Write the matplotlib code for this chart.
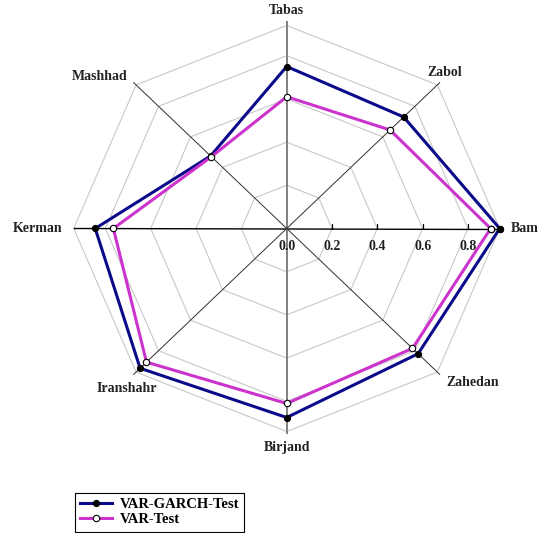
import numpy as np
import matplotlib
matplotlib.use("Agg")
import matplotlib.pyplot as plt

# ---- data ----
categories = ["Bam", "Zabol", "Tabas", "Mashhad", "Kerman", "Iranshahr", "Birjand", "Zahedan"]
var_garch = [0.94, 0.73, 0.75, 0.475, 0.845, 0.915, 0.875, 0.82]
var_test = [0.90, 0.645, 0.61, 0.47, 0.765, 0.875, 0.81, 0.785]
ring_levels = [0.2, 0.4, 0.6, 0.8, 0.94]
tick_values = [0.0, 0.2, 0.4, 0.6, 0.8]
tick_labels = ["0.0", "0.2", "0.4", "0.6", "0.8"]
series_names = ["VAR-GARCH-Test", "VAR-Test"]

W, H = 539, 533
fig = plt.figure(figsize=(W / 100, H / 100), dpi=100)
cx, cy = 286.7, 228.5
sx, sy = 226.6, 216.0
ax = fig.add_axes([(cx - sx) / W, (H - cy - sy) / H, 2 * sx / W, 2 * sy / H], projection="polar")
ax.set_aspect("auto")
ax.set_ylim(0, 1.0)
ax.grid(False)
ax.spines["polar"].set_visible(False)
ax.set_xticks([])
ax.set_yticks([])
ax.patch.set_alpha(0)

n = len(categories)
angles = np.deg2rad(np.arange(n) * 360.0 / n)
closed = np.append(angles, angles[0])

serif = {"family": ["Liberation Serif", "DejaVu Serif"], "weight": "bold"}

# rings
for r in ring_levels:
    ax.plot(closed, [r] * (n + 1), color="#c8c8c8", lw=0.8, zorder=1)

# spokes
ax.plot([0, np.pi], [0.94, 0.94], color="black", lw=1.0, zorder=2)
ax.plot([np.pi / 2, np.pi / 2], [0, 0.955], color="#808080", lw=1.4, zorder=2)
ax.plot([3 * np.pi / 2, 3 * np.pi / 2], [0, 0.945], color="#808080", lw=1.4, zorder=2)
for a in angles[[1, 3, 5, 7]]:
    ax.plot([a, a], [0, 0.955], color="#303030", lw=0.7, zorder=2)

# ticks on Bam axis
for v, lab in zip(tick_values, tick_labels):
    if v > 0:
        ax.plot([0], [v], marker=2, color="black", markersize=3.5, mew=0.9, zorder=3)
    ax.annotate(lab, (0, v), xytext=(0, -18), textcoords="offset pixels",
                ha="center", va="center", fontsize=10, color="#222222", **serif)

# series
gv = var_garch + var_garch[:1]
tv = var_test + var_test[:1]
ax.plot(closed, gv, color="#0a0a8a", lw=2.2, marker="o", markersize=4.2,
        mfc="black", mec="black", zorder=5, label=series_names[0])
ax.plot(closed, tv, color="#cc33cc", lw=2.2, marker="o", markersize=4.6,
        mfc="white", mec="black", mew=0.8, zorder=6, label=series_names[1])

# category labels
label_r = [0.94, 0.955, 0.955, 0.955, 0.94, 0.955, 0.945, 0.955]
offsets = [(11, 0, "left"), (5, 10, "center"), (0, 12, "center"), (-6, 6, "right"),
           (-11, 0, "right"), (-7, -14, "center"), (0, -15, "center"), (7, -8, "left")]
for a, r, name, (dx, dy, ha) in zip(angles, label_r, categories, offsets):
    ax.annotate(name, (a, r), xytext=(dx, dy), textcoords="offset pixels",
                ha=ha, va="center", fontsize=10, color="#222222", **serif)

leg = fig.legend(loc="lower left", bbox_to_anchor=(75 / W, 1.5 / H), borderaxespad=0,
                 fancybox=False, edgecolor="black", framealpha=1,
                 prop={"family": ["Liberation Serif", "DejaVu Serif"], "weight": "bold", "size": 10.5},
                 handlelength=2.2, handletextpad=0.5, labelspacing=0.15,
                 borderpad=0.35)
leg.get_frame().set_linewidth(0.8)

fig.savefig("out.png", dpi=100)
